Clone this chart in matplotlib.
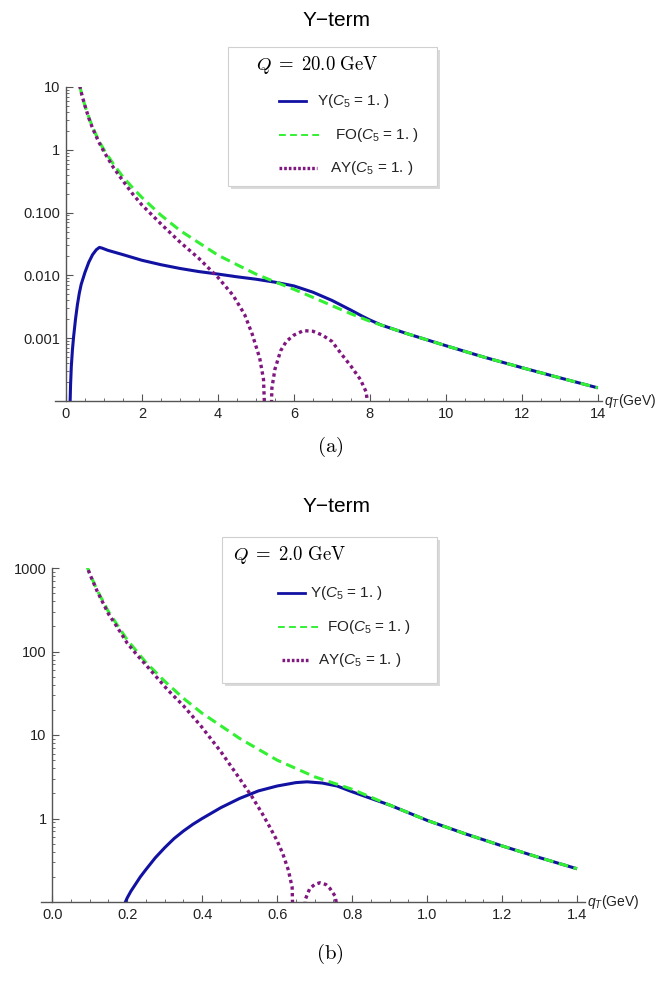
import matplotlib
matplotlib.use("Agg")
import matplotlib.pyplot as plt
from matplotlib.lines import Line2D
from matplotlib.patches import Rectangle
from matplotlib.ticker import LogLocator, NullFormatter, MultipleLocator

plt.rcParams['font.family'] = ['Liberation Sans', 'DejaVu Sans']
plt.rcParams['mathtext.fontset'] = 'custom'
plt.rcParams['mathtext.rm'] = 'Liberation Sans'
plt.rcParams['mathtext.it'] = 'Liberation Sans:italic'

# ---- data ----
# panel (a): Q = 20 GeV
q_fo20 = [0.36, 0.42, 0.5, 0.6, 0.7, 0.85, 1.0, 1.25, 1.5, 1.75, 2.0, 2.5, 3.0, 3.5, 4.0,
          4.5, 5.0, 5.5, 6.0, 6.5, 7.0, 7.5, 8.0, 9.0, 10.0, 11.0, 12.0, 13.0, 14.0]
fo20 = [10.5, 7.4, 5.0, 3.3, 2.3, 1.45, 1.0, 0.59, 0.37, 0.25, 0.174, 0.091, 0.052, 0.033, 0.021,
        0.0148, 0.0105, 0.0079, 0.0060, 0.00447, 0.0033, 0.00245, 0.00186, 0.00117, 0.00076,
        0.00050, 0.00034, 0.000234, 0.000162]

q_y20 = [0.10, 0.12, 0.14, 0.17, 0.2, 0.25, 0.3, 0.35, 0.4, 0.5, 0.6, 0.7, 0.8, 0.88, 0.95,
         1.1, 1.5, 2.0, 2.5, 3.0, 3.5, 4.0, 4.5, 5.0, 5.5, 6.0, 6.5, 7.0, 7.5, 7.8, 8.0,
         8.3, 9.0, 10.0, 11.0, 12.0, 13.0, 14.0]
y20 = [6.3e-5, 1.78e-4, 3.55e-4, 6.6e-4, 1.05e-3, 2.0e-3, 3.4e-3, 5.2e-3, 7.2e-3, 0.0112,
       0.0162, 0.0214, 0.0257, 0.0279, 0.0272, 0.0251, 0.0214, 0.0174, 0.0148, 0.0129, 0.0115,
       0.0105, 0.0095, 0.0087, 0.0078, 0.0068, 0.0054, 0.0040, 0.0028, 0.00224, 0.00195,
       0.00162, 0.00117, 0.00076, 0.00050, 0.00034, 0.000234, 0.000162]

q_ay20 = [0.36, 0.42, 0.5, 0.6, 0.7, 0.85, 1.0, 1.25, 1.5, 1.75, 2.0, 2.5, 3.0, 3.5, 4.0,
          4.4, 4.7, 4.9, 5.1, 5.2, 5.3, 5.36, 5.42, 5.5, 5.65, 5.8, 6.0, 6.25, 6.5, 6.75,
          7.0, 7.25, 7.5, 7.75, 7.9, 8.0]
ay20 = [10.5, 7.4, 5.0, 3.2, 2.2, 1.38, 0.93, 0.52, 0.32, 0.20, 0.132, 0.066, 0.034, 0.0186,
        0.0093, 0.0048, 0.0024, 0.00117, 0.00048, 0.00022, 5e-6, 5e-6, 1.6e-4, 3.2e-4,
        6.3e-4, 8.9e-4, 1.12e-3, 1.32e-3, 1.29e-3, 1.12e-3, 8.9e-4, 5.6e-4, 3.6e-4,
        2.2e-4, 1.4e-4, 5e-5]

# panel (b): Q = 2 GeV
q_fo2 = [0.09, 0.1, 0.12, 0.15, 0.2, 0.25, 0.3, 0.35, 0.4, 0.5, 0.6, 0.7, 0.8, 0.9, 1.0,
         1.1, 1.2, 1.3, 1.4]
fo2 = [1120, 860, 540, 300, 138, 74, 44, 27.5, 18.2, 9.1, 5.0, 3.16, 2.24, 1.45, 0.95,
       0.66, 0.47, 0.34, 0.25]

q_y2 = [0.19, 0.2, 0.21, 0.22, 0.235, 0.25, 0.275, 0.3, 0.325, 0.35, 0.375, 0.4, 0.45, 0.5,
        0.55, 0.6, 0.65, 0.68, 0.72, 0.76, 0.8, 0.85, 0.9, 1.0, 1.1, 1.2, 1.3, 1.4]
y2 = [0.089, 0.112, 0.135, 0.158, 0.200, 0.245, 0.339, 0.447, 0.575, 0.708, 0.851, 1.0,
      1.35, 1.74, 2.14, 2.45, 2.69, 2.75, 2.66, 2.45, 2.09, 1.74, 1.45, 0.95, 0.66, 0.47,
      0.34, 0.25]

q_ay2 = [0.09, 0.1, 0.12, 0.15, 0.172, 0.2, 0.226, 0.25, 0.308, 0.35, 0.398, 0.45, 0.5,
         0.533, 0.56, 0.579, 0.6, 0.615, 0.63, 0.64, 0.652, 0.658, 0.675, 0.687, 0.70,
         0.714, 0.73, 0.741, 0.755, 0.768]
ay2 = [1120, 850, 525, 282, 200, 126, 91, 69, 34.7, 22.4, 12.6, 6.3, 3.0, 1.82, 1.15,
       0.81, 0.54, 0.38, 0.24, 0.15, 0.001, 0.001, 0.107, 0.145, 0.162, 0.170, 0.162,
       0.145, 0.117, 0.05]

xt20 = [0, 2, 4, 6, 8, 10, 12, 14]
yt20 = [1e-3, 1e-2, 1e-1, 1, 10]
ytl20 = ['0.001', '0.010', '0.100', '1', '10']
xt2 = [0.0, 0.2, 0.4, 0.6, 0.8, 1.0, 1.2, 1.4]
yt2 = [1, 10, 100, 1000]
ytl2 = ['1', '10', '100', '1000']

BLUE = '#1212a2'
GREEN = '#33f033'
PURPLE = '#80167f'
AXC = '#555555'

W, H = 656, 984
fig = plt.figure(figsize=(W / 100, H / 100), dpi=100)


def fx(px):
    return px / W


def fy(py):
    return 1 - py / H


def style_axes(ax, xticks, xlabels, yticks, ylabels, xminor):
    ax.set_yscale('log')
    for s in ['top', 'right']:
        ax.spines[s].set_visible(False)
    ax.spines['left'].set_position(('data', 0))
    for s in ['left', 'bottom']:
        ax.spines[s].set_color(AXC)
        ax.spines[s].set_linewidth(1.0)
    ax.set_xticks(xticks)
    ax.set_xticklabels(xlabels)
    ax.xaxis.set_minor_locator(MultipleLocator(xminor))
    ax.set_yticks(yticks)
    ax.set_yticklabels(ylabels)
    ax.yaxis.set_minor_locator(LogLocator(base=10, subs=range(2, 10)))
    ax.yaxis.set_minor_formatter(NullFormatter())
    ax.tick_params(which='major', direction='in', length=5, width=0.8, color=AXC,
                   labelsize=10.5, labelcolor='#222222', pad=4)
    ax.tick_params(which='minor', direction='in', length=2.5, width=0.6, color=AXC)
    ax.patch.set_alpha(0)
    ax.annotate(r'$q_T$(GeV)', xy=(1, 0), xycoords='axes fraction', xytext=(2, 0),
                textcoords='offset points', ha='left', va='center', fontsize=10,
                color='#222222', annotation_clip=False)


def draw_curves(ax, qy, y, qf, f, qa, a):
    ax.plot(qy, y, color=BLUE, lw=2.2, solid_capstyle='butt')
    ax.plot(qf, f, color=GREEN, lw=2.2, dashes=(3.2, 1.8))
    ax.plot(qa, a, color=PURPLE, lw=2.4, dashes=(1.0, 1.0))


def legend_box(x0, y0, x1, y1, qtext, rows):
    fig.patches.append(Rectangle((fx(x0 + 3), fy(y1 + 3)), fx(x1 - x0), (y1 - y0) / H,
                                 transform=fig.transFigure, facecolor='#dadada',
                                 edgecolor='none', zorder=5))
    fig.patches.append(Rectangle((fx(x0), fy(y1)), fx(x1 - x0), (y1 - y0) / H,
                                 transform=fig.transFigure, facecolor='white',
                                 edgecolor='#d0d0d0', lw=0.8, zorder=6))
    qx, qy = qtext[1], qtext[2]
    fig.text(fx(qx), fy(qy), qtext[0], fontsize=13.5, math_fontfamily='cm',
             ha='left', va='center', zorder=7)
    for (lx0, lx1, ly, tx, label, kw) in rows:
        fig.lines.append(Line2D([fx(lx0), fx(lx1)], [fy(ly), fy(ly)],
                                transform=fig.transFigure, zorder=7, **kw))
        fig.text(fx(tx), fy(ly), label, fontsize=11, ha='left', va='center',
                 color='#222222', zorder=7)


lab_y = r'Y($C_5$ = 1. )'
lab_fo = r'FO($C_5$ = 1. )'
lab_ay = r'AY($C_5$ = 1. )'
kw_y = dict(color=BLUE, lw=2.0)
kw_fo = dict(color=GREEN, lw=1.4, dashes=(3.5, 2.2))
kw_ay = dict(color=PURPLE, lw=2.4, dashes=(0.8, 0.6))

# ---- panel (a) ----
ax1 = fig.add_axes([fx(54.6), fy(401), fx(547), (401 - 87) / H])
draw_curves(ax1, q_y20, y20, q_fo20, fo20, q_ay20, ay20)
ax1.set_xlim(-0.3, 14.1)
ax1.set_ylim(1e-4, 10)
style_axes(ax1, xt20, [str(v) for v in xt20], yt20, ytl20, 0.5)
fig.text(fx(337), fy(20), 'Y\u2212term', fontsize=15, ha='center', va='center')
fig.text(fx(330), fy(447), r'$\mathrm{(a)}$', fontsize=15, math_fontfamily='cm',
         ha='center', va='center')
legend_box(228, 47, 437, 186, (r'$Q\;=\;20.0\ \mathrm{GeV}$', 256, 65),
           [(279, 306, 101, 317, lab_y, kw_y),
            (279, 323, 135, 335, lab_fo, kw_fo),
            (279, 317, 168, 330, lab_ay, kw_ay)])

# ---- panel (b) ----
ax2 = fig.add_axes([fx(41), fy(902), fx(543.5), (902 - 568) / H])
draw_curves(ax2, q_y2, y2, q_fo2, fo2, q_ay2, ay2)
ax2.set_xlim(-0.03, 1.42)
ax2.set_ylim(0.1, 1000)
style_axes(ax2, xt2, ['%.1f' % v for v in xt2], yt2, ytl2, 0.05)
fig.text(fx(337), fy(507), 'Y\u2212term', fontsize=15, ha='center', va='center')
fig.text(fx(330), fy(954), r'$\mathrm{(b)}$', fontsize=15, math_fontfamily='cm',
         ha='center', va='center')
legend_box(222, 537, 437, 683, (r'$Q\;=\;2.0\ \mathrm{GeV}$', 233, 555),
           [(278, 305, 593, 310, lab_y, kw_y),
            (278, 322, 627, 327, lab_fo, kw_fo),
            (282, 310, 660, 318, lab_ay, kw_ay)])

fig.savefig('out.png', dpi=100)
